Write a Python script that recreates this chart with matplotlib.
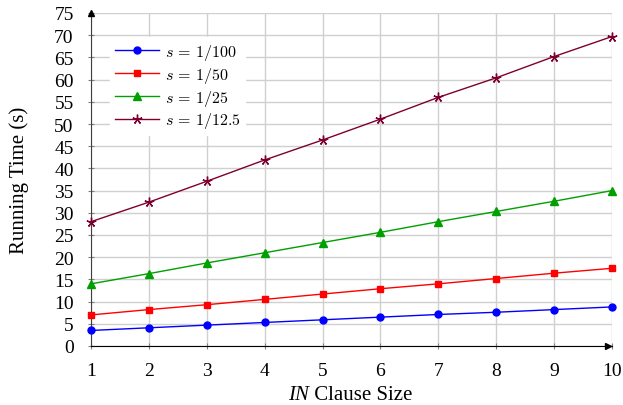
import matplotlib
matplotlib.use("Agg")
import matplotlib.pyplot as plt

x_sizes = [1, 2, 3, 4, 5, 6, 7, 8, 9, 10]
s_100 = [3.5, 4.1, 4.7, 5.3, 5.9, 6.5, 7.1, 7.6, 8.2, 8.8]
s_50 = [7.0, 8.2, 9.3, 10.5, 11.7, 12.9, 14.0, 15.2, 16.4, 17.5]
s_25 = [14.0, 16.3, 18.7, 21.0, 23.3, 25.6, 28.0, 30.3, 32.6, 35.0]
s_12_5 = [28.0, 32.4, 37.1, 41.9, 46.4, 51.1, 56.0, 60.4, 65.2, 69.7]
labels = ["$s\\,=\\,1/100$", "$s\\,=\\,1/50$", "$s\\,=\\,1/25$", "$s\\,=\\,1/12.5$"]
y_ticks = list(range(0, 80, 5))

plt.rcParams['font.family'] = ['Liberation Serif', 'DejaVu Serif']
plt.rcParams['mathtext.fontset'] = 'cm'

fig = plt.figure(figsize=(6.23, 4.06), dpi=100)
ax = fig.add_axes([91/623, 59/406, 521/623, 333/406])

ax.plot(x_sizes, s_100, color='blue', marker='o', markersize=5, lw=1, label=labels[0], clip_on=False, zorder=3)
ax.plot(x_sizes, s_50, color='red', marker='s', markersize=5, lw=1, label=labels[1], clip_on=False, zorder=3)
ax.plot(x_sizes, s_25, color='#00a000', marker='^', markersize=6, lw=1, label=labels[2], clip_on=False, zorder=3)
ax.plot(x_sizes, s_12_5, color='#7f0030', marker=(5, 2, 0), markersize=7, lw=1, label=labels[3], clip_on=False, zorder=3)

ax.set_xlim(1, 10)
ax.set_ylim(0, 75)
ax.set_xticks(x_sizes)
ax.set_yticks(y_ticks)
ax.grid(True, color='#d0d0d0', lw=1)
ax.set_axisbelow(True)
for sp in ['top', 'right']:
    ax.spines[sp].set_visible(False)
ax.spines['left'].set_color('#404040')
ax.spines['bottom'].set_color('black')
ax.tick_params(axis='both', direction='inout', length=5, color='#808080', labelsize=14)
ax.tick_params(axis='y', pad=10)
ax.tick_params(axis='x', pad=9)

# arrows at axis ends
ax.plot([0], [1], transform=ax.transAxes, marker='^', color='black', markersize=5, clip_on=False, zorder=4)
ax.plot([0.992], [0], transform=ax.transAxes, marker='>', color='black', markersize=5, clip_on=False, zorder=4)

# x label: italic "IN" followed by upright text
t1 = fig.text(288 / 623, 6 / 406, 'IN', fontsize=15, fontstyle='italic', ha='left', va='baseline')
ax.annotate(' Clause Size', xy=(1, 0), xycoords=t1, fontsize=15, ha='left', va='bottom',
            annotation_clip=False)

ax.set_ylabel('Running Time (s)', fontsize=15, labelpad=18)

leg = ax.legend(loc='upper left', bbox_to_anchor=(0.036, 0.928), borderaxespad=0,
                frameon=True, fancybox=False,
                edgecolor='white', facecolor='white', framealpha=1, fontsize=11.5,
                handlelength=2.8, labelspacing=0.18, borderpad=0.3, handletextpad=0.35)

fig.savefig('out.png', dpi=100)
